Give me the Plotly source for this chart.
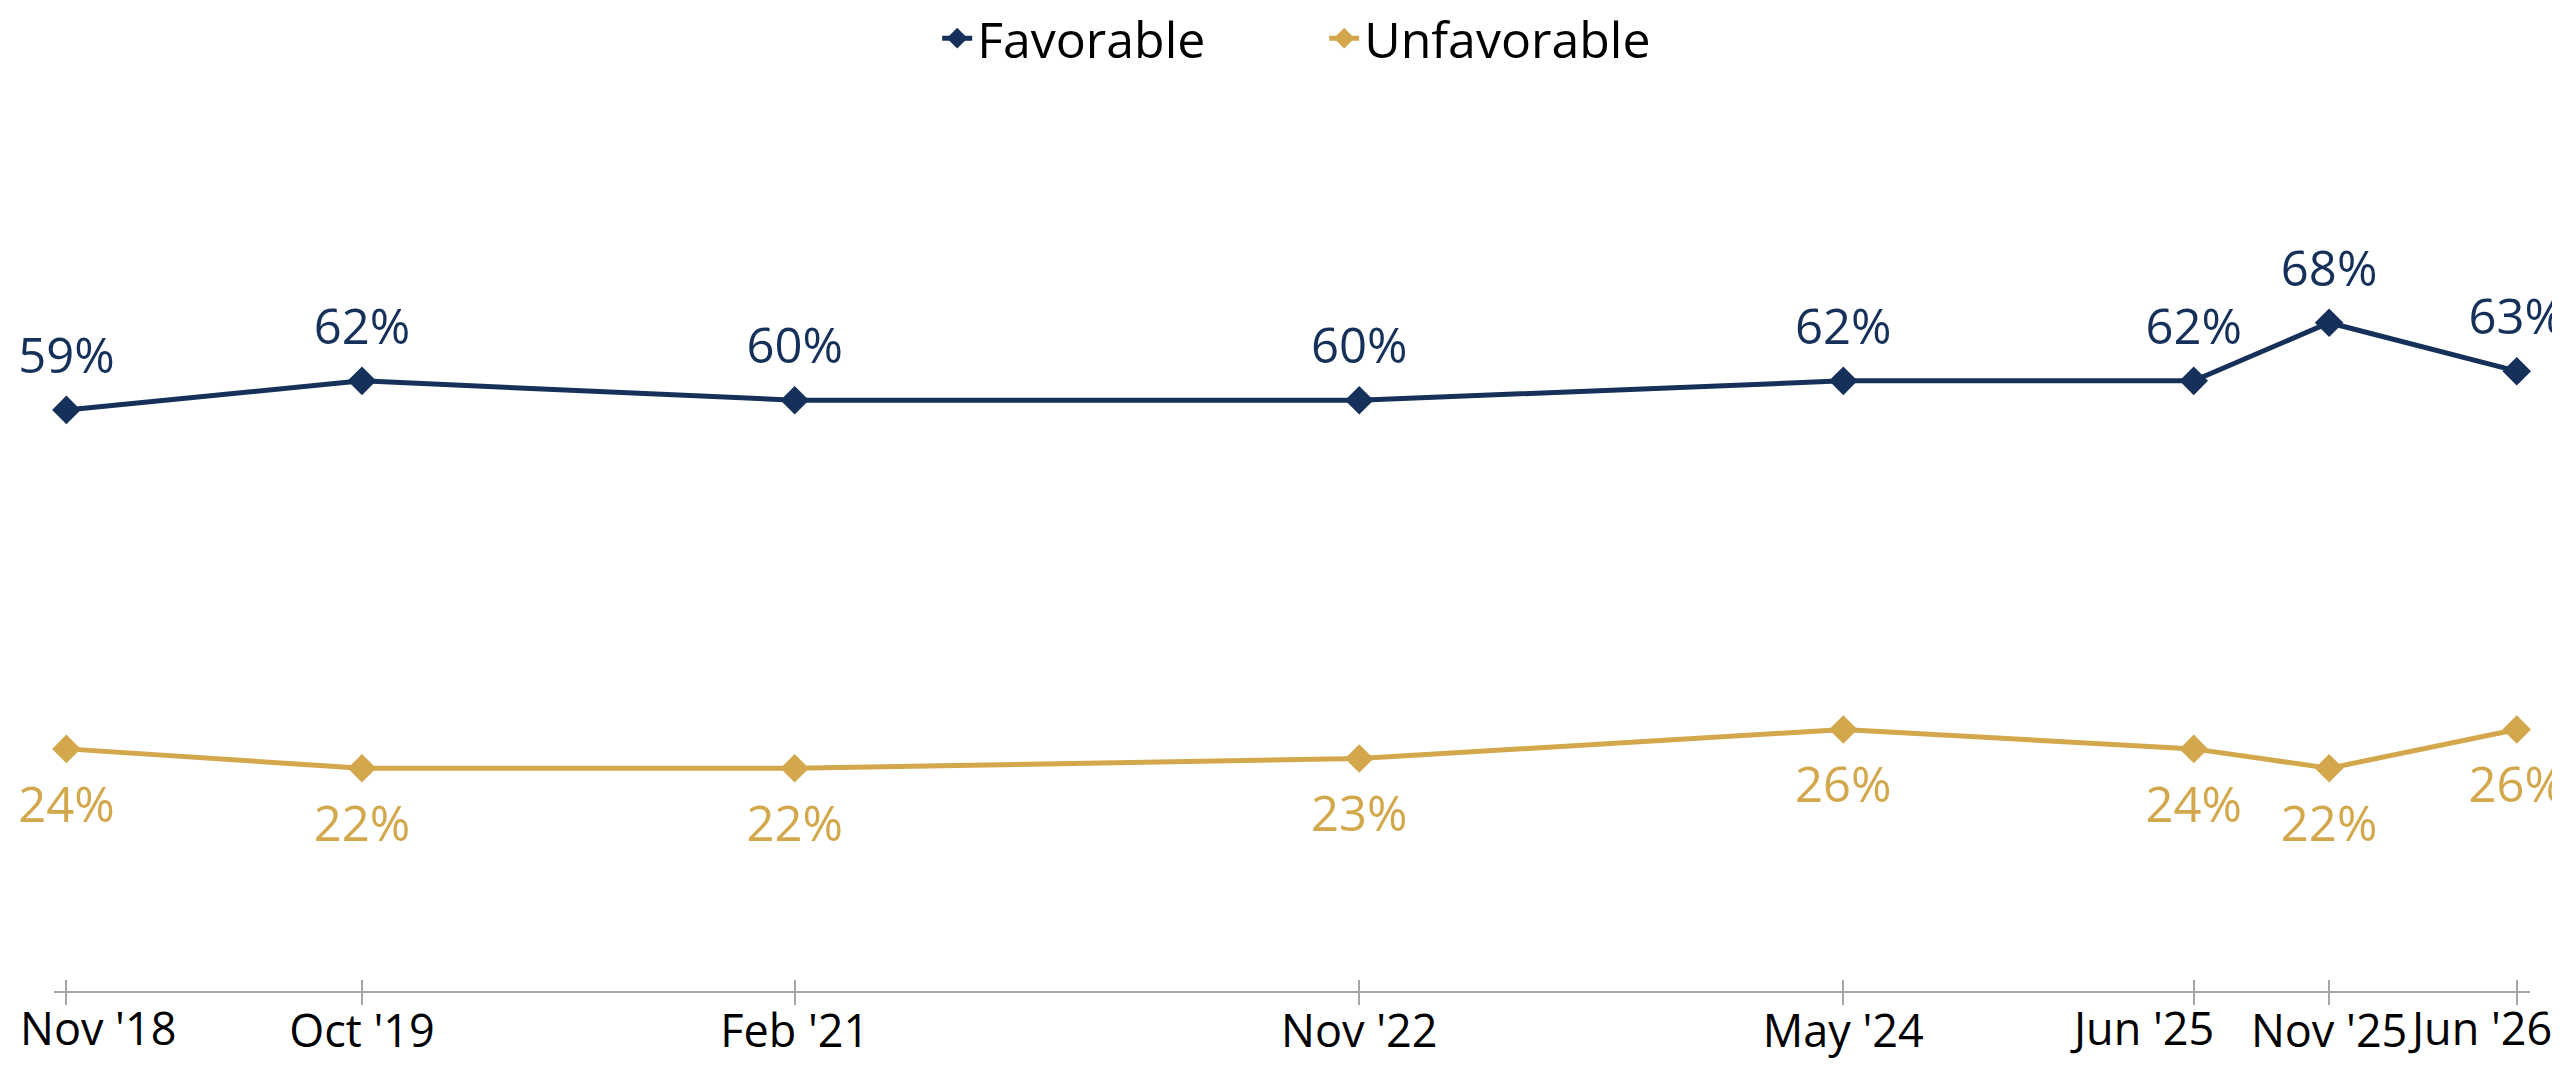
import plotly.graph_objects as go

dates = ["2018-11-01", "2019-10-01", "2021-02-01", "2022-11-01",
         "2024-05-01", "2025-06-01", "2025-11-01", "2026-06-01"]
tick_labels = ["Nov '18", "Oct '19", "Feb '21", "Nov '22",
               "May '24", "Jun '25", "Nov '25", "Jun '26"]
favorable = [59, 62, 60, 60, 62, 62, 68, 63]
unfavorable = [24, 22, 22, 23, 26, 24, 22, 26]

NAVY = "#15315A"
GOLD = "#D3A84C"
FONT = "Open Sans"
TICK_FONT = dict(family=FONT, size=45, color="black")

fig = go.Figure()
series = [("Favorable", favorable, NAVY, "top center", 38),
          ("Unfavorable", unfavorable, GOLD, "bottom center", 56)]
for name, vals, color, tpos, pad_size in series:
    fig.add_trace(go.Scatter(
        x=dates, y=vals, name=name, mode="lines+markers",
        line=dict(color=color, width=5),
        marker=dict(symbol="diamond", size=22, color=color),
        cliponaxis=False,
    ))
    # value labels; an invisible larger marker sets the label distance
    fig.add_trace(go.Scatter(
        x=dates, y=vals, mode="markers+text", showlegend=False, hoverinfo="skip",
        marker=dict(size=pad_size, color="rgba(0,0,0,0)"),
        text=[f"{v}%" for v in vals], textposition=tpos,
        textfont=dict(family=FONT, size=49, color=color),
        cliponaxis=False,
    ))
# invisible trace to activate the overlaid axis for outer tick marks
fig.add_trace(go.Scatter(x=dates, y=favorable, xaxis="x2", mode="none",
                         showlegend=False, hoverinfo="skip"))

# labels that the reference nudges sideways are drawn as annotations instead
shifted = {0: ("left", -48), 5: ("right", 22), 7: ("right", 37)}
inner_text = ["" if i in shifted else t for i, t in enumerate(tick_labels)]

xrange = ["2018-10-18", "2026-06-16"]
fig.update_layout(
    width=2560, height=1073,
    paper_bgcolor="white", plot_bgcolor="white",
    margin=dict(l=46, r=38, t=0, b=90, autoexpand=False),
    font=dict(family=FONT, color="black"),
    showlegend=True,
    legend=dict(orientation="h", x=0.513, xanchor="center", y=1.009, yanchor="top",
                font=dict(family=FONT, size=50, color="black"),
                entrywidth=342, tracegroupgap=0, bgcolor="rgba(0,0,0,0)"),
    xaxis=dict(type="date", range=xrange, tickmode="array",
               tickvals=dates, ticktext=inner_text, tickangle=0,
               automargin=False,
               showgrid=False, zeroline=False,
               showline=True, linecolor="#A6A6A6", linewidth=2,
               ticks="inside", ticklen=11, tickwidth=2, tickcolor="#A6A6A6",
               tickfont=TICK_FONT),
    xaxis2=dict(type="date", range=xrange, overlaying="x", matches="x",
                side="bottom", anchor="y",
                tickmode="array", tickvals=dates, showticklabels=False,
                automargin=False,
                showgrid=False, zeroline=False, showline=False,
                ticks="outside", ticklen=13, tickwidth=2, tickcolor="#A6A6A6"),
    yaxis=dict(range=[-1, 100.5], visible=False, showgrid=False, zeroline=False,
               automargin=False),
)

for i, (anchor, shift) in shifted.items():
    fig.add_annotation(x=dates[i], xref="x", y=0, yref="paper", text=tick_labels[i],
                       showarrow=False, xanchor=anchor, yanchor="top",
                       xshift=shift, yshift=-4, font=TICK_FONT)

fig.write_html("out.html")
